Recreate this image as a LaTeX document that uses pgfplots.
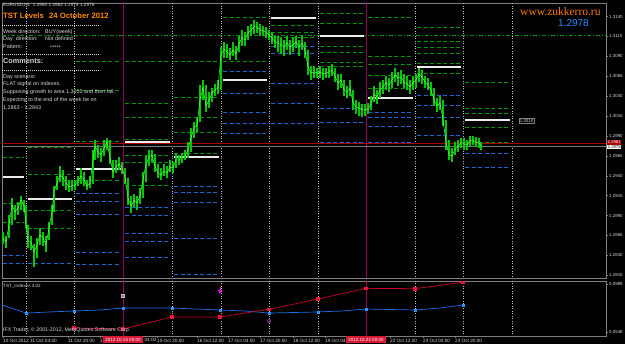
\documentclass[border=0pt]{standalone}
\usepackage{pgfplots}
\usepackage{pgfplotstable}
\pgfplotsset{compat=1.18}
\usepackage{fontspec}
\setmainfont{Liberation Sans}
\newfontfamily\webfont{Liberation Serif}
\definecolor{frame}{RGB}{128,128,128}
\definecolor{sep}{RGB}{195,195,195}
\definecolor{lvgreen}{RGB}{0,150,0}
\definecolor{lvblue}{RGB}{30,100,210}
\definecolor{lvwhite}{RGB}{235,235,235}
\definecolor{cgreen}{RGB}{0,200,0}
\definecolor{cline}{RGB}{90,255,90}
\definecolor{vmag}{RGB}{150,0,90}
\definecolor{askred}{RGB}{170,0,0}
\definecolor{bidgray}{RGB}{120,120,120}
\definecolor{orangeT}{RGB}{255,140,0}
\definecolor{dodger}{RGB}{30,144,255}
\definecolor{txt}{RGB}{215,215,215}
\definecolor{indblue}{RGB}{30,110,230}
\definecolor{indred}{RGB}{200,0,40}
\definecolor{mkblue}{RGB}{40,150,255}
\definecolor{mkred}{RGB}{235,20,60}
\definecolor{hlred}{RGB}{215,25,55}
\definecolor{magarrow}{RGB}{255,0,255}

\pgfplotstableread{
x c h l
3 1.28618 1.28694 1.28543
6 1.28568 1.28643 1.28493
9 1.28782 1.28907 1.28618
12 1.29033 1.29121 1.28782
15 1.28945 1.29033 1.28844
18 1.28995 1.29071 1.28907
21 1.29096 1.29146 1.28970
24 1.29020 1.29096 1.28945
26 1.28782 1.29033 1.28744
28 1.28568 1.28782 1.28493
31 1.28568 1.28643 1.28467
34 1.28442 1.28543 1.28255
37 1.28530 1.28618 1.28367
40 1.28656 1.28744 1.28530
43 1.28618 1.28694 1.28518
46 1.28530 1.28643 1.28442
49 1.28744 1.28819 1.28593
52 1.28945 1.29033 1.28782
54 1.29196 1.29272 1.28945
57 1.29309 1.29397 1.29221
60 1.29410 1.29523 1.29322
63 1.29372 1.29472 1.29272
66 1.29309 1.29397 1.29221
69 1.29259 1.29347 1.29196
72 1.29272 1.29347 1.29209
75 1.29284 1.29347 1.29221
78 1.29334 1.29397 1.29272
81 1.29397 1.29498 1.29297
84 1.29347 1.29447 1.29272
87 1.29272 1.29347 1.29221
90 1.29309 1.29397 1.29246
93 1.29598 1.29724 1.29297
95 1.29774 1.29849 1.29598
98 1.29699 1.29787 1.29623
101 1.29661 1.29749 1.29573
104 1.29749 1.29849 1.29648
107 1.29824 1.29875 1.29724
110 1.29623 1.29849 1.29548
113 1.29447 1.29598 1.29372
116 1.29510 1.29598 1.29435
119 1.29548 1.29636 1.29472
122 1.29498 1.29573 1.29422
125 1.29385 1.29498 1.29297
128 1.29121 1.29372 1.29033
131 1.29020 1.29146 1.28932
134 1.29096 1.29171 1.29008
137 1.29058 1.29146 1.28970
140 1.29146 1.29246 1.29046
143 1.29347 1.29447 1.29121
146 1.29548 1.29648 1.29322
149 1.29636 1.29724 1.29523
152 1.29661 1.29724 1.29573
155 1.29523 1.29674 1.29447
158 1.29435 1.29548 1.29372
161 1.29410 1.29498 1.29347
164 1.29460 1.29548 1.29397
167 1.29435 1.29523 1.29372
170 1.29510 1.29598 1.29447
173 1.29498 1.29573 1.29435
176 1.29598 1.29674 1.29498
179 1.29598 1.29661 1.29535
182 1.29623 1.29686 1.29560
185 1.29648 1.29724 1.29598
188 1.29724 1.29824 1.29623
191 1.29875 1.30000 1.29699
194 1.30000 1.30076 1.29875
197 1.30038 1.30126 1.29950
200 1.30352 1.30540 1.30076
203 1.30503 1.30603 1.30352
206 1.30277 1.30540 1.30201
209 1.30352 1.30453 1.30251
212 1.30440 1.30503 1.30327
215 1.30478 1.30553 1.30402
218 1.30503 1.30603 1.30427
221 1.30917 1.31018 1.30478
224 1.30993 1.31080 1.30880
227 1.30955 1.31055 1.30880
230 1.30917 1.31005 1.30854
233 1.30980 1.31080 1.30905
236 1.30930 1.31030 1.30854
239 1.31055 1.31156 1.30955
242 1.31131 1.31231 1.31030
245 1.31106 1.31206 1.31030
248 1.31193 1.31281 1.31106
251 1.31231 1.31307 1.31156
254 1.31269 1.31357 1.31181
257 1.31269 1.31332 1.31193
260 1.31231 1.31307 1.31156
263 1.31219 1.31281 1.31156
266 1.31206 1.31269 1.31131
269 1.31168 1.31231 1.31106
272 1.31131 1.31206 1.31055
275 1.31080 1.31156 1.31005
278 1.31068 1.31156 1.30955
281 1.31043 1.31131 1.30930
284 1.31018 1.31106 1.30905
287 1.31068 1.31156 1.30980
290 1.31018 1.31106 1.30917
293 1.31043 1.31131 1.30955
296 1.31080 1.31156 1.31005
299 1.31018 1.31106 1.30905
302 1.31068 1.31156 1.30980
305 1.30980 1.31080 1.30880
308 1.30767 1.30980 1.30666
311 1.30691 1.30779 1.30603
314 1.30704 1.30779 1.30628
317 1.30691 1.30754 1.30628
320 1.30704 1.30779 1.30628
323 1.30679 1.30754 1.30603
326 1.30691 1.30754 1.30628
329 1.30704 1.30779 1.30628
332 1.30729 1.30804 1.30654
335 1.30654 1.30754 1.30578
338 1.30566 1.30679 1.30478
341 1.30603 1.30679 1.30503
344 1.30478 1.30603 1.30402
347 1.30453 1.30528 1.30377
350 1.30503 1.30603 1.30402
353 1.30314 1.30478 1.30226
356 1.30264 1.30352 1.30176
359 1.30251 1.30327 1.30151
362 1.30226 1.30302 1.30138
365 1.30226 1.30302 1.30151
368 1.30239 1.30314 1.30176
371 1.30302 1.30402 1.30226
374 1.30427 1.30528 1.30327
377 1.30390 1.30478 1.30302
380 1.30478 1.30578 1.30377
383 1.30515 1.30603 1.30427
386 1.30566 1.30654 1.30478
389 1.30540 1.30628 1.30453
392 1.30603 1.30704 1.30503
395 1.30666 1.30754 1.30578
398 1.30628 1.30704 1.30528
401 1.30641 1.30729 1.30553
404 1.30578 1.30679 1.30503
407 1.30553 1.30654 1.30478
410 1.30515 1.30603 1.30427
413 1.30566 1.30654 1.30478
416 1.30603 1.30679 1.30503
419 1.30679 1.30754 1.30578
422 1.30641 1.30729 1.30553
425 1.30578 1.30654 1.30503
428 1.30540 1.30628 1.30478
431 1.30478 1.30578 1.30402
434 1.30352 1.30503 1.30277
437 1.30277 1.30377 1.30201
440 1.30314 1.30402 1.30226
443 1.30101 1.30352 1.30025
446 1.29824 1.30101 1.29724
449 1.29661 1.29849 1.29598
452 1.29648 1.29749 1.29573
455 1.29736 1.29824 1.29661
458 1.29761 1.29849 1.29699
461 1.29824 1.29875 1.29749
464 1.29799 1.29875 1.29724
467 1.29787 1.29849 1.29724
470 1.29837 1.29900 1.29761
473 1.29849 1.29900 1.29787
476 1.29824 1.29887 1.29761
479 1.29812 1.29875 1.29749
481 1.29774 1.29824 1.29724
}\candles

\pgfplotstableread{
a b y
3 24 1.29636
3 24 1.29058
3 24 1.28819
28 72 1.29761
28 72 1.29422
28 72 1.28970
28 72 1.28744
76 121 1.30842
76 121 1.30478
76 121 1.29837
76 121 1.29347
125 170 1.30842
125 170 1.30314
125 170 1.30138
125 170 1.29862
125 170 1.29661
125 170 1.29573
125 170 1.29284
174 219 1.30842
174 219 1.30390
174 219 1.30138
174 219 1.29950
174 219 1.29686
223 267 1.31394
223 267 1.30842
271 316 1.31294
271 316 1.31206
271 316 1.31143
320 364 1.31445
320 364 1.31319
320 364 1.31030
320 364 1.30955
320 364 1.30829
320 364 1.30779
368 413 1.31394
368 413 1.30905
368 413 1.30804
368 413 1.30666
368 413 1.30503
417 461 1.31269
417 461 1.31093
417 461 1.31018
417 461 1.30942
417 461 1.30817
417 461 1.30691
465 510 1.30578
465 510 1.30251
465 510 1.30189
465 510 1.30013
465 510 1.29824
}\greenlv

\pgfplotstableread{
a b y
3 24 1.28405
3 24 1.28305
28 72 1.28305
76 121 1.29184
76 121 1.29083
76 121 1.28920
76 121 1.28442
76 121 1.28292
125 170 1.29008
125 170 1.28907
125 170 1.28681
125 170 1.28581
125 170 1.28380
174 219 1.29272
174 219 1.29196
174 219 1.29071
174 219 1.28618
174 219 1.28166
223 267 1.30716
223 267 1.30440
223 267 1.30201
223 267 1.30063
223 267 1.29937
271 316 1.31030
271 316 1.30942
271 316 1.30566
271 316 1.30314
271 316 1.30063
320 364 1.30251
320 364 1.30076
320 364 1.29824
368 413 1.30201
368 413 1.30138
368 413 1.30025
368 413 1.29824
417 461 1.30415
417 461 1.30289
417 461 1.30138
417 461 1.29912
465 510 1.29686
465 510 1.29510
}\bluelv

\pgfplotstableread{
a b y
3 24 1.29385
28 72 1.29108
76 121 1.29485
125 170 1.29824
174 219 1.29636
223 267 1.30603
271 316 1.31382
320 364 1.31156
368 413 1.30377
417 461 1.30767
465 510 1.30100
}\whitelv

\pgfplotsset{mtframe/.style={
  scale only axis, xmin=2, xmax=606, width=604pt,
  axis line style={frame, line width=0.8pt},
  unbounded coords=jump,
  tick align=outside, major tick length=2pt,
  tick style={frame, line width=0.5pt},
  ytick pos=right, yticklabel pos=right,
  scaled y ticks=false,
  yticklabel style={font=\fontsize{4.4}{5}\selectfont, text=txt, anchor=west, inner sep=1pt},
},
nomark/.style={only marks, mark=*, mark size=0pt, mark options={draw=none, fill=none}},
}

\begin{document}
\begin{tikzpicture}[x=1pt,y=1pt]
\fill[black] (0,0) rectangle (625,344);
\useasboundingbox (0,0) rectangle (625,344);

% ---------------- main price pane ----------------
\begin{axis}[mtframe,
  at={(2pt,66pt)}, anchor=south west, height=275pt,
  ymin=1.28116, ymax=1.31570,
  xtick=\empty,
  ytick={1.2815,1.2840,1.2865,1.2890,1.2915,1.2940,1.2965,1.2990,1.3015,1.3040,1.3065,1.3090,1.3115,1.3140},
  yticklabels={1.2815,1.2840,1.2865,1.2890,1.2915,1.2940,1.2965,1.2990,1.3015,1.3040,1.3065,1.3090,1.3115,1.3140},
]
% day separators
\addplot[sep, line width=0.7pt, dash pattern=on 1pt off 1.5pt] coordinates {
 (26,1.2) (26,1.4) (26,nan) (74,1.2) (74,1.4) (74,nan) (172,1.2) (172,1.4) (172,nan)
 (221,1.2) (221,1.4) (221,nan) (269,1.2) (269,1.4) (269,nan) (318,1.2) (318,1.4) (318,nan)
 (415,1.2) (415,1.4) (415,nan) (463,1.2) (463,1.4) (463,nan) (512,1.2) (512,1.4)};
\addplot[vmag, line width=0.8pt] coordinates {(123,1.2) (123,1.4) (123,nan) (366,1.2) (366,1.4)};
% long dash-dot level
\addplot[lvgreen, line width=0.7pt, dash pattern=on 4pt off 2pt on 1pt off 2pt] coordinates {(2,1.31168) (606,1.31168)};
% daily levels
\addplot[lvgreen, nomark, error bars/.cd, x dir=plus, x explicit, error mark=none,
  error bar style={lvgreen, line width=0.7pt, dash pattern=on 4pt off 2.5pt}]
  table[x=a, y=y, x error expr=\thisrow{b}-\thisrow{a}] \greenlv;
\addplot[lvblue, nomark, error bars/.cd, x dir=plus, x explicit, error mark=none,
  error bar style={lvblue, line width=0.7pt, dash pattern=on 4pt off 2.5pt}]
  table[x=a, y=y, x error expr=\thisrow{b}-\thisrow{a}] \bluelv;
\addplot[lvwhite, nomark, error bars/.cd, x dir=plus, x explicit, error mark=none,
  error bar style={lvwhite, line width=1.4pt}]
  table[x=a, y=y, x error expr=\thisrow{b}-\thisrow{a}] \whitelv;
% ask / bid lines
\addplot[askred, line width=0.7pt] coordinates {(2,1.29812) (606,1.29812)};
\addplot[bidgray, line width=0.7pt] coordinates {(2,1.29774) (606,1.29774)};
% price bars
\addplot[cgreen, nomark, error bars/.cd, y dir=both, y explicit, error mark=none,
  error bar style={cgreen, line width=1.3pt}]
  table[x=x, y=c, y error plus expr=\thisrow{h}-\thisrow{c}, y error minus expr=\thisrow{c}-\thisrow{l}] \candles;
\addplot[cline, line width=0.5pt, mark=none] table[x=x, y=c] \candles;
\end{axis}

% ---------------- indicator pane ----------------
\begin{axis}[mtframe,
  at={(2pt,8pt)}, anchor=south west, height=55pt,
  ymin=0.05111, ymax=0.10166,
  ytick={0.0548,0.0989}, yticklabels={0.0548,0.0989},
  xtick pos=left,
  xtick={3,30,68,100,157,197,228,260,293,325,390,423,455},
  xticklabels={10 Oct 2012,11 Oct 04:00,11 Oct 20:00,12,15 Oct 20:00,16 Oct 12:00,17 Oct 04:00,17 Oct 20:00,18 Oct 12:00,19 Oct 04,22 Oct 12:00,23 Oct 04:00,23 Oct 20:00},
  xticklabel style={font=\fontsize{4.7}{5}\selectfont, text=txt, anchor=north west, inner sep=0.8pt, xshift=-0.8pt},
]
\addplot[sep, line width=0.7pt, dash pattern=on 1pt off 1.5pt] coordinates {
 (26,0) (26,1) (26,nan) (74,0) (74,1) (74,nan) (172,0) (172,1) (172,nan)
 (221,0) (221,1) (221,nan) (269,0) (269,1) (269,nan) (318,0) (318,1) (318,nan)
 (415,0) (415,1) (415,nan) (463,0) (463,1) (463,nan) (512,0) (512,1)};
\addplot[vmag, line width=0.8pt] coordinates {(123,0) (123,1) (123,nan) (366,0) (366,1)};
\addplot[indblue, line width=0.7pt, mark=none] coordinates {
 (2,0.0796) (26,0.0722) (50,0.0732) (74,0.0741) (100,0.0750) (123,0.0768) (172,0.0768)
 (196,0.0759) (220,0.0750) (245,0.0741) (269,0.0722) (318,0.0732) (342,0.0741) (366,0.0759)
 (415,0.0750) (440,0.0768) (463,0.0796)};
\addplot[only marks, mark=square*, mark size=1.2pt, mkblue] coordinates {
 (26,0.0722) (74,0.0741) (123,0.0768) (172,0.0768) (220,0.0750) (269,0.0722) (318,0.0732) (366,0.0759) (415,0.0750) (463,0.0796)};
\addplot[indred, line width=0.7pt, mark=square*, mark size=1.2pt, mark options={mkred}] coordinates {
 (74,0.0585) (123,0.0575) (172,0.0686) (220,0.0686) (269,0.0756) (318,0.0851) (366,0.0949) (415,0.0946) (463,0.1005)};
\addplot[magarrow, line width=1pt] coordinates {(220,0.0930) (220,0.0965)};
\addplot[only marks, mark=triangle*, mark size=2pt, mark options={rotate=180, fill=magarrow, draw=magarrow}] coordinates {(220,0.0922)};
\addplot[only marks, mark=square*, mark size=1.6pt, mark options={fill=gray, draw=lightgray}] coordinates {(123,0.0879)};
\addplot[only marks, mark=o, mark size=1.8pt, mark options={draw=violet!70!gray, line width=0.8pt}] coordinates {(269,0.0649)};
\end{axis}

% ---------------- texts ----------------
\node[anchor=base west, font=\fontsize{4.7}{5}\selectfont, text=txt, inner sep=0] at (3,337.5) {EURUSD,H1\ \ 1.2980 1.2982 1.2974 1.2978};
\node[anchor=base west, font=\bfseries\fontsize{7.7}{8}\selectfont, text=orangeT, inner sep=0] at (3,325) {TST Levels};
\node[anchor=base west, font=\bfseries\fontsize{7.7}{8}\selectfont, text=orangeT, inner sep=0] at (49,325) {24 October 2012};
\draw[txt, line width=0.6pt, dash pattern=on 0.8pt off 1.2pt] (2,319) -- (100,319);
\draw[txt, line width=0.6pt, dash pattern=on 0.8pt off 1.2pt] (2,290) -- (100,290);
\draw[txt, line width=0.6pt, dash pattern=on 0.8pt off 1.2pt] (2,274) -- (100,274);
\begin{scope}[every node/.style={anchor=base west, font=\fontsize{5.4}{6}\selectfont, text=txt, inner sep=0}]
\node at (3,310) {Week direction:};
\node at (45,310) {BUY(week)};
\node at (3,303) {Day\ \ direction:};
\node at (45,303) {Not defined};
\node at (3,295.5) {Pattern:};
\node at (50,294.5) {*****};
\node at (3,265) {Day scenario:};
\node at (3,258) {FLAT signal on indexes.};
\node at (3,250) {Supposing growth to area 1,3015 and then fall.};
\node at (3,242.5) {Expecting to the end of the week be on};
\node at (3,234) {1,2863 - 1,2843};
\end{scope}
\node[anchor=base west, font=\bfseries\fontsize{7.3}{8}\selectfont, text=txt, inner sep=0] at (3,280) {Comments:};
\node[anchor=base west, font=\webfont\fontsize{11.5}{12}\selectfont, text=orangeT!90!red, inner sep=0] at (520,328.5) {www.zukkerro.ru};
\node[anchor=base west, font=\fontsize{10}{11}\selectfont, text=dodger, inner sep=0] at (558,317) {1.2978};
% price tags on right scale
\node[anchor=west, fill=askred, text=white, font=\fontsize{4.2}{4.5}\selectfont, inner sep=0.6pt] at (607,201.5) {1.2981};
\node[anchor=west, fill=white, text=black, font=\fontsize{4.2}{4.5}\selectfont, inner sep=0.6pt] at (607,197) {1.2978};
\node[draw=frame, text=txt, font=\fontsize{4.4}{5}\selectfont, inner sep=0.8pt] at (526.5,223) {1.3010};
% indicator texts
\node[anchor=base west, font=\fontsize{4.6}{5}\selectfont, text=txt, inner sep=0] at (3,56) {TST\_Indexes 3.02};
\node[anchor=base west, font=\fontsize{5.3}{6}\selectfont, text=txt, inner sep=0] at (3,12) {IFX Trader, © 2001-2012, MetaQuotes Software Corp.};
% highlighted date labels
\node[fill=hlred, text=white, font=\fontsize{4.5}{5}\selectfont, inner sep=0, minimum width=40pt, minimum height=7pt] at (123,4.2) {2012.10.15 00:00};
\node[fill=hlred, text=white, font=\fontsize{4.5}{5}\selectfont, inner sep=0, minimum width=40pt, minimum height=7pt] at (366,4.2) {2012.10.22 00:00};
\node[anchor=north west, font=\fontsize{4.7}{5}\selectfont, text=txt, inner sep=0.8pt] at (143.5,6.6) {04:00};
\end{tikzpicture}
\end{document}
